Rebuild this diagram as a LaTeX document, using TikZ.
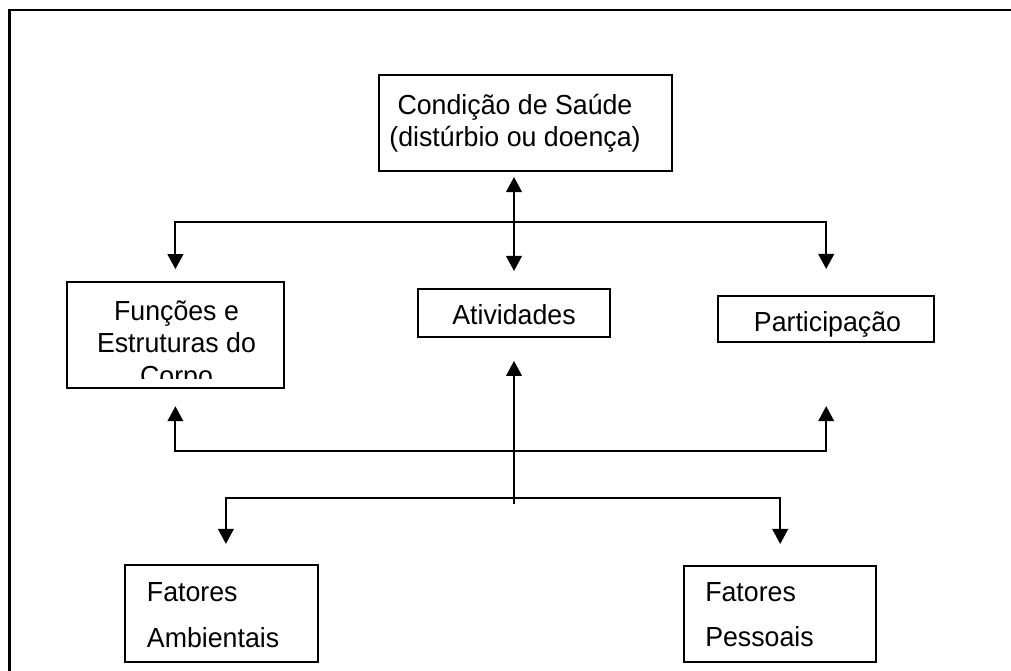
\documentclass[tikz,border=0pt]{standalone}
\usepackage{fontspec}
\setmainfont{Liberation Sans}[FakeStretch=0.97]
\usetikzlibrary{arrows.meta}

\tikzset{
  box/.style={draw, line width=0.05cm, inner sep=0pt},
  txt/.style={inner sep=0pt, align=center, font=\fontsize{19.6pt}{23.1pt}\selectfont},
  txtwide/.style={inner sep=0pt, align=left, anchor=base west, font=\fontsize{19.6pt}{32.4pt}\selectfont},
  arr/.style={line width=0.05cm, -{Triangle[length=0.375cm, width=0.39cm]}},
  arrboth/.style={line width=0.05cm, {Triangle[length=0.375cm, width=0.39cm]}-{Triangle[length=0.375cm, width=0.39cm]}},
  frame/.style={line width=0.065cm}
}

\begin{document}
\begin{tikzpicture}[x=0.025cm, y=-0.025cm]
  \useasboundingbox (0,0) rectangle (1011,670);
  \clip (0,0) rectangle (1011,670);
  \draw[frame] (9.7,10) rectangle (1040,700);

  % boxes
  \node[box, minimum width=7.31cm, minimum height=2.4cm] (cond) at (525.5,123) {};
  \node[box, minimum width=5.43cm, minimum height=2.65cm] (func) at (175.4,335.2) {};
  \node[box, minimum width=4.8cm, minimum height=1.21cm] (ativ) at (514,313.2) {};
  \node[box, minimum width=5.39cm, minimum height=1.16cm] (part) at (826.2,319.2) {};
  \node[box, minimum width=4.83cm, minimum height=2.42cm] (amb) at (221.5,613.3) {};
  \node[box, minimum width=4.79cm, minimum height=2.39cm] (pess) at (780.2,613.8) {};

  % texts (base = last line)
  \node[txt, anchor=base] (condtxt) at (515,146.5) {Condição de Saúde\\(distúrbio ou doença)};
  \begin{scope}
    \clip (func.north west) rectangle (284,378.5);
    \node[txt, anchor=base] (functxt) at (176.5,385) {Funções e\\Estruturas do\\Corpo};
  \end{scope}
  \node[txt, anchor=base] (ativtxt) at (514,324.5) {Atividades};
  \node[txt, anchor=base] (parttxt) at (827.5,331.7) {Participação};
  \node[txtwide] (ambtxt) at (146.7,647.3) {Fatores\\Ambientais};
  \node[txtwide] (pesstxt) at (705,646.7) {Fatores\\Pessoais};

  % junctions
  \coordinate (jtop) at (514,222);
  \coordinate (jmid) at (514,451);
  \coordinate (jlow) at (514,498.3);
  \coordinate (stem) at (514,504);

  % connectors
  \draw[arrboth, shorten <=0.125cm, shorten >=0.425cm] (ativ.north |- cond.south) -- (ativ.north);
  \draw[arr, shorten >=0.3cm] (jtop) -| (func.north);
  \draw[arr, shorten >=0.65cm] (jtop) -| (part.north);
  \draw[arr, shorten >=0.5625cm] (stem) -- (ativ.south);
  \draw[arr, shorten >=0.425cm] (jmid) -| (func.south);
  \draw[arr, shorten >=1.5675cm] (jmid) -| (part.south);
  \draw[arr, shorten >=0.5cm] (jlow) -| ([xshift=0.11cm]amb.north);
  \draw[arr, shorten >=0.525cm] (jlow) -| (pess.north);
\end{tikzpicture}
\end{document}
